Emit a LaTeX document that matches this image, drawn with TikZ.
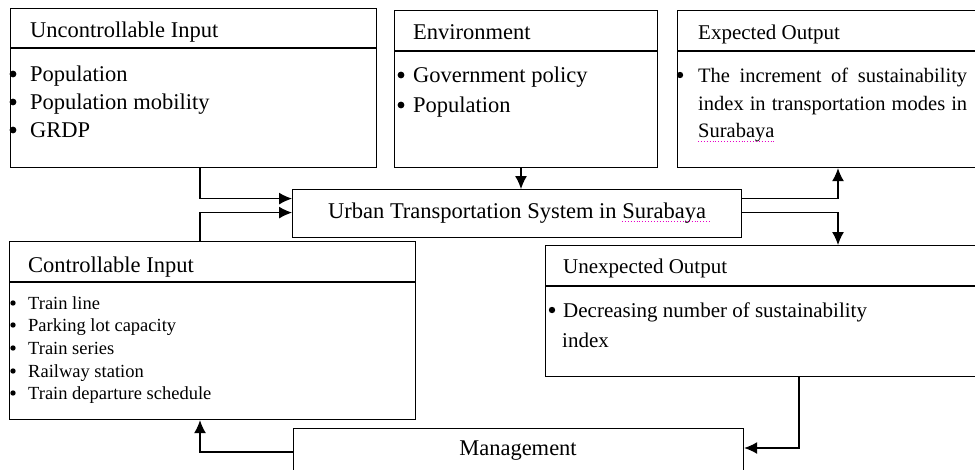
\documentclass[tikz,border=0pt]{standalone}
\usepackage{fontspec}
\setmainfont{Liberation Serif}
\usetikzlibrary{arrows.meta}
\begin{document}
\begin{tikzpicture}[x=1pt,y=-1pt,
  box/.style={draw, line width=1.2pt, rectangle, inner sep=0pt, anchor=north west},
  conn/.style={line width=1.2pt},
  arr/.style={conn, -{Latex[length=13pt,width=12pt]}},
  big/.style={font=\fontsize{22.5}{27}\selectfont},
  mid/.style={font=\fontsize{21}{25}\selectfont},
  small/.style={font=\fontsize{18.5}{22}\selectfont},
  lbl/.style={anchor=base west, inner sep=0pt},
  dot/.style={fill=black},
  squig/.style={color={rgb,255:red,230;green,0;blue,200}, dotted, line width=0.9pt}]
\useasboundingbox (0,0) rectangle (975,469);
\fill[white] (0,0) rectangle (975,469);
\clip (0,0) rectangle (975,469);

% boxes
\node[box, minimum width=366pt, minimum height=159pt] (ui) at (10,8) {};
\node[box, minimum width=263pt, minimum height=157pt] (env) at (394,10) {};
\node[box, minimum width=330pt, minimum height=157pt] (exp) at (677,10) {};
\node[box, minimum width=449pt, minimum height=48pt, big] (urban) at (292,189) {Urban Transportation System in Surabaya};
\node[box, minimum width=406pt, minimum height=178pt] (ci) at (9,241) {};
\node[box, minimum width=460pt, minimum height=131pt] (unx) at (545,245) {};
\node[box, minimum width=450pt, minimum height=62pt] (mgmt) at (293,428) {};

% header dividers
\draw[conn] ([yshift=-40pt]ui.north west) -- ([yshift=-40pt]ui.north east);
\draw[conn] ([yshift=-41pt]env.north west) -- ([yshift=-41pt]env.north east);
\draw[conn] ([yshift=-41pt]exp.north west) -- ([yshift=-41pt]exp.north east);
\draw[conn] ([yshift=-41pt]ci.north west) -- ([yshift=-41pt]ci.north east);
\draw[conn] ([yshift=-41pt]unx.north west) -- ([yshift=-41pt]unx.north east);

% Uncontrollable Input
\node[lbl, big] (uih) at (30,37) {Uncontrollable Input};
\node[lbl, big] (ui1) at (30,81) {Population};
\node[lbl, big] (ui2) at (30,109) {Population mobility};
\node[lbl, big] (ui3) at (30,137) {GRDP};
\foreach \n in {ui1,ui2,ui3} \fill[dot] ([xshift=-17pt,yshift=7pt]\n.base west) circle (3.4pt);

% Environment
\node[lbl, big] (envh) at (413,39) {Environment};
\node[lbl, big] (env1) at (413,82) {Government policy};
\node[lbl, big] (env2) at (413,112) {Population};
\foreach \n in {env1,env2} \fill[dot] ([xshift=-12pt,yshift=7pt]\n.base west) circle (3.4pt);

% Expected Output
\node[lbl, mid] (exph) at (698,39) {Expected Output};
\node[lbl, font=\fontsize{20.5}{25}\selectfont] (exp1) at (698,82) {\makebox[269pt][s]{The increment of sustainability}};
\node[lbl, font=\fontsize{20.5}{25}\selectfont] (exp2) at (698,110) {\makebox[269pt][s]{index in transportation modes in}};
\node[lbl, font=\fontsize{20.5}{25}\selectfont] (exp3) at (698,137) {Surabaya};
\fill[dot] ([xshift=-18pt,yshift=7pt]exp1.base west) circle (3.2pt);
\draw[squig] ([yshift=-4pt]exp3.base west) -- ++(77,0);

% Controllable Input
\node[lbl, big] (cih) at (28,272) {Controllable Input};
\node[lbl, small] (ci1) at (28,309) {Train line};
\node[lbl, small] (ci2) at (28,331) {Parking lot capacity};
\node[lbl, small] (ci3) at (28,354) {Train series};
\node[lbl, small] (ci4) at (28,377) {Railway station};
\node[lbl, small] (ci5) at (28,399) {Train departure schedule};
\foreach \n in {ci1,ci2,ci3,ci4,ci5} \fill[dot] ([xshift=-15pt,yshift=6pt]\n.base west) circle (2.7pt);

% Unexpected Output
\node[lbl, mid] (unxh) at (563,273) {Unexpected Output};
\node[lbl, mid] (unx1) at (563,317) {Decreasing number of sustainability};
\node[lbl, mid] (unx2) at (562,347) {index};
\fill[dot] ([xshift=-11pt,yshift=7pt]unx1.base west) circle (3.2pt);

% Management
\node[anchor=base, inner sep=0pt, big] (mgmtl) at (518,455) {Management};

% spell-check underline in Urban box
\draw[squig] (622,221) -- (710,221);

% connectors
\draw[arr] ([xshift=190pt]ui.south west) |- ([yshift=15pt]urban.west);
\draw[arr] ([xshift=191pt]ci.north west) |- ([yshift=1pt]urban.west);
\draw[arr] ([xshift=127pt]env.south west) -- ([xshift=127pt]env.south west |- urban.north);
\draw[arr] ([yshift=15pt]urban.east) -| ([xshift=161pt]exp.south west);
\draw[arr] ([yshift=1pt]urban.east) -| ([xshift=293pt]unx.north west);
\draw[arr] ([xshift=254pt]unx.south west) |- ([yshift=-20pt]mgmt.north east);
\draw[arr] ([yshift=-24pt]mgmt.north west) -| ([xshift=191pt]ci.south west);
\end{tikzpicture}
\end{document}
